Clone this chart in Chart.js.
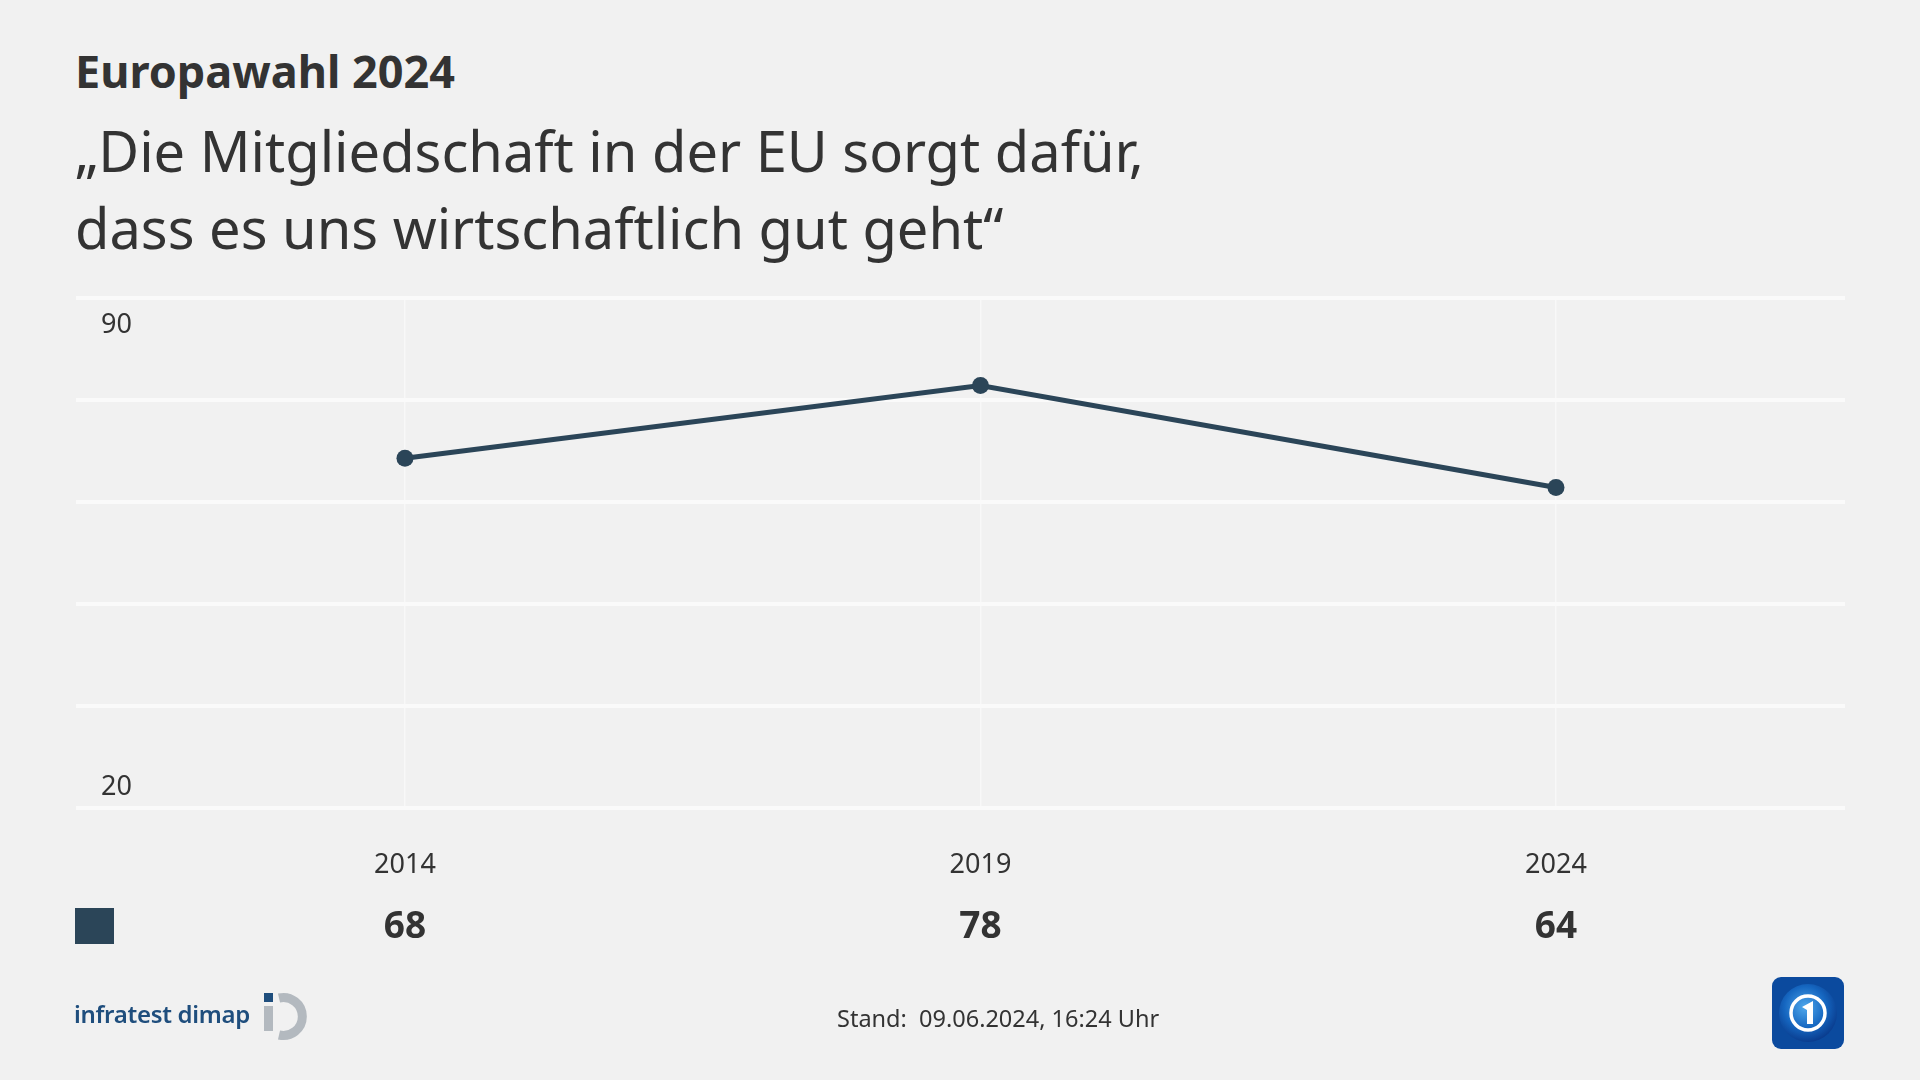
<!DOCTYPE html>
<html>
<head>
<meta charset="utf-8">
<script src="https://cdn.jsdelivr.net/npm/chart.js@4.4.1/dist/chart.umd.min.js"></script>
<style>
    html, body {margin: 0; padding: 0; background: #f1f1f1;}
    body {width: 1920px; height: 1080px; position: relative; overflow: hidden; font-family: "Noto Sans", sans-serif; color: #333;}
    #chart {position: absolute; left: 0; top: 0;}
    .title {position: absolute; left: 75px; top: 40px; font-size: 45px; font-weight: bold; color: #333;}
    .subtitle {position: absolute; left: 75px; top: 112px; font-size: 56px; line-height: 77px; color: #333;}
    .footer {position: absolute; left: 837px; top: 1002px; font-size: 23.5px; color: #333;}
    .logo-left {position: absolute; left: 74px; top: 997px; font-size: 24px; font-weight: 600; color: #1f4e7d; letter-spacing: -0.3px;}
    .logo-left svg {position: absolute; left: 188px; top: -6px;}
    .logo-right {position: absolute; left: 1772px; top: 977px;}
</style>
</head>
<body>
<div class="title">Europawahl 2024</div>
<div class="subtitle">„Die Mitgliedschaft in der EU sorgt dafür,<br>dass es uns wirtschaftlich gut geht“</div>
<canvas id="chart" width="1920" height="1080"></canvas>
<div class="logo-left">infratest dimap
    <svg width="50" height="50" viewBox="0 0 50 50">
        <rect x="2" y="2" width="9" height="9" fill="#1f4e7d"/>
        <path d="M17 7 A19 19 0 1 1 17 44" fill="none" stroke="#b3b9bf" stroke-width="9"/>
        <rect x="2" y="15" width="9" height="25" fill="#b3b9bf"/>
    </svg>
</div>
<div class="footer">Stand:&nbsp; 09.06.2024, 16:24 Uhr</div>
<div class="logo-right">
    <svg width="72" height="72" viewBox="0 0 72 72">
        <defs>
            <radialGradient id="g" cx="45%" cy="40%" r="60%">
                <stop offset="0" stop-color="#4fa8ec"/>
                <stop offset="0.6" stop-color="#1566c0"/>
                <stop offset="1" stop-color="#0a3d8f"/>
            </radialGradient>
        </defs>
        <rect x="0" y="0" width="72" height="72" rx="9" fill="#0b4a9e"/>
        <circle cx="36" cy="36" r="29" fill="url(#g)"/>
        <circle cx="36" cy="36" r="17" fill="none" stroke="#fff" stroke-width="3.5"/>
        <path d="M30 30 L41 24 L41 47 L35 47 L35 33 Z" fill="#fff"/>
    </svg>
</div>
<script>
const years = [2014, 2019, 2024];
const values = [68, 78, 64];
const yTicks = [20, 34, 48, 62, 76, 90];
const yLabels = [20, 90];
const seriesColor = '#2b4558';

const textPlugin = {
    id: 'textPlugin',
    afterDraw(chart) {
        const ctx = chart.ctx;
        const x = chart.scales.x;
        const y = chart.scales.y;
        ctx.save();
        ctx.fillStyle = '#333';
        ctx.textBaseline = 'middle';
        // y labels inside the plot
        ctx.font = '27px "Noto Sans"';
        ctx.textAlign = 'left';
        ctx.fillText(String(yLabels[1]), 101, y.getPixelForValue(yLabels[1]) + 27);
        ctx.fillText(String(yLabels[0]), 101, y.getPixelForValue(yLabels[0]) - 21);
        // years and values under the plot
        ctx.textAlign = 'center';
        years.forEach(function (yr, i) {
            const px = x.getPixelForValue(yr);
            ctx.font = '27px "Noto Sans"';
            ctx.fillText(String(yr), px, 865);
            ctx.font = 'bold 37px "Noto Sans"';
            ctx.fillText(String(values[i]), px, 927);
        });
        // legend square
        ctx.fillStyle = seriesColor;
        ctx.fillRect(75, 908, 39, 36);
        ctx.restore();
    }
};

new Chart(document.getElementById('chart'), {
    type: 'line',
    data: {
        datasets: [{
            data: years.map(function (yr, i) { return {x: yr, y: values[i]}; }),
            borderColor: seriesColor,
            backgroundColor: seriesColor,
            borderWidth: 5,
            pointRadius: 8.5,
            pointBackgroundColor: seriesColor,
            pointBorderWidth: 0,
            tension: 0
        }]
    },
    options: {
        responsive: false,
        animation: false,
        layout: {padding: {left: 76, right: 75, top: 298, bottom: 272}},
        plugins: {legend: {display: false}, tooltip: {enabled: false}},
        scales: {
            x: {
                type: 'linear',
                min: 2011.142,
                max: 2026.511,
                afterBuildTicks: function (scale) {
                    scale.ticks = years.map(function (v) { return {value: v}; });
                },
                ticks: {display: false},
                grid: {color: '#f8f8f8', lineWidth: 1.5, drawTicks: false},
                border: {display: false}
            },
            y: {
                min: 20,
                max: 90,
                afterBuildTicks: function (scale) {
                    scale.ticks = yTicks.map(function (v) { return {value: v}; });
                },
                ticks: {display: false},
                grid: {color: '#fafafa', lineWidth: 4, drawTicks: false},
                border: {display: false}
            }
        }
    },
    plugins: [textPlugin]
});
</script>
</body>
</html>
